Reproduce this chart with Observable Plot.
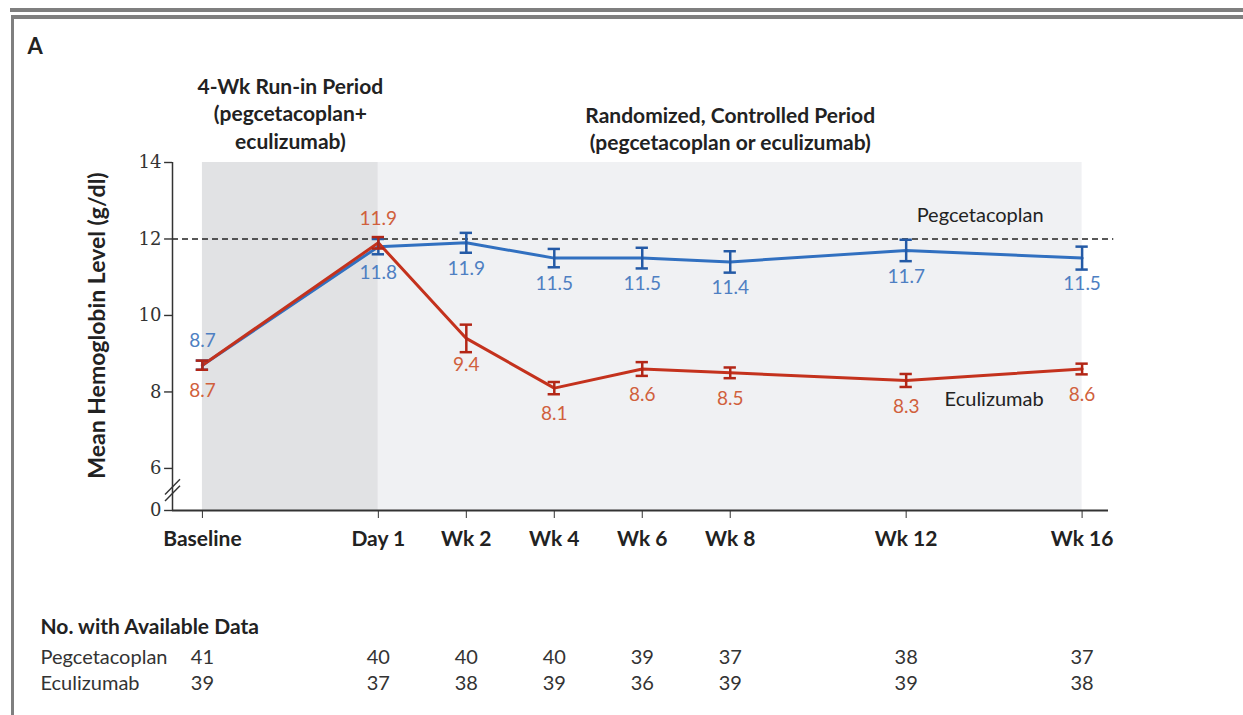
<!DOCTYPE html>
<html><head><meta charset="utf-8">
<script src="https://cdn.jsdelivr.net/npm/d3@7"></script>
<script src="https://cdn.jsdelivr.net/npm/@observablehq/plot@0.6"></script>
<style>
body{margin:0;background:#fff;overflow:hidden;}
#wrap{position:relative;width:1243px;height:715px;}
#wrap svg{position:absolute;left:0;top:0;}
.bl{position:absolute;background:#7f7f7f;z-index:5;}
</style></head><body>
<div id="wrap">
  <div class="bl" style="top:8px;left:10px;right:0;height:4px;"></div>
  <div class="bl" style="top:15px;left:11px;right:0;height:4px;"></div>
  <div class="bl" style="top:15px;left:11px;width:3px;bottom:0;"></div>
</div>
<script>
// ---- data ----
const timepoints = ["Baseline", "Day 1", "Wk 2", "Wk 4", "Wk 6", "Wk 8", "Wk 12", "Wk 16"];
const weeks      = [-4, 0, 2, 4, 6, 8, 12, 16];
const pegMean    = [8.7, 11.8, 11.9, 11.5, 11.5, 11.4, 11.7, 11.5];
const pegErr     = [0.12, 0.2, 0.26, 0.24, 0.27, 0.28, 0.28, 0.3];
const eculMean   = [8.7, 11.9, 9.4, 8.1, 8.6, 8.5, 8.3, 8.6];
const eculErr    = [0.12, 0.15, 0.36, 0.16, 0.18, 0.14, 0.17, 0.14];
const pegN       = [41, 40, 40, 40, 39, 37, 38, 37];
const eculN      = [39, 37, 38, 39, 36, 39, 39, 38];
const yTicks     = [6, 8, 10, 12, 14];
const yBreakBottom = 4.9;   // shown as "0" below the axis break
const targetHb   = 12;
const periodNames  = ["4-Wk Run-in Period\n(pegcetacoplan+\neculizumab)", "Randomized, Controlled Period\n(pegcetacoplan or eculizumab)"];
const periodStart  = [-4, 0];
const periodEnd    = [0, 16];
const seriesNames  = ["Pegcetacoplan", "Eculizumab"];
const panelLabel   = "A";
const yTitle       = "Mean Hemoglobin Level (g/dl)";
const tableTitle   = "No. with Available Data";

// ---- derived tables ----
const rows = weeks.map((w, i) => ({
  week: w, label: timepoints[i],
  peg: pegMean[i], pegErr: pegErr[i],
  ecul: eculMean[i], eculErr: eculErr[i],
  pegN: pegN[i], eculN: eculN[i], i
}));
const periods = periodNames.map((n, i) => ({name: n, start: periodStart[i], end: periodEnd[i]}));
const yTickVals = [yBreakBottom, ...yTicks];

// ---- styles ----
const X0 = -4.68, X1 = 16.6, Y0 = yBreakBottom, Y1 = 14;
const BLUE = "#3170c0", BLUE_D = "#245aa6", BLUE_T = "#4e7fc2";
const RED = "#c4321d", RED_D = "#b32616", RED_T = "#d0603c";
const INK = "#222";
const FONT = "Lato, 'Open Sans', sans-serif";
const SERIF = "'DejaVu Serif', 'Liberation Serif', serif";
const capW = 0.14;
const tickLen = 0.18; // in weeks (~8px)

const chart = Plot.plot({
  width: 1243, height: 715,
  marginTop: 162, marginBottom: 205, marginLeft: 172, marginRight: 1243 - 1108,
  x: {domain: [X0, X1], axis: null},
  y: {domain: [Y0, Y1], axis: null},
  style: {fontFamily: FONT, background: "transparent", color: INK},
  marks: [
    Plot.rect([periods[0]], {x1: "start", x2: "end", y1: Y0, y2: Y1, fill: "#e1e2e4"}),
    Plot.rect([periods[1]], {x1: "start", x2: "end", y1: Y0, y2: Y1, fill: "#f0f1f3"}),
    Plot.ruleY([targetHb], {x1: X0, x2: 16.72, stroke: "#222", strokeWidth: 1.7, strokeDasharray: "6,4"}),
    // axes
    Plot.ruleX([X0], {y1: Y0, y2: Y1, stroke: "#333", strokeWidth: 1.5}),
    Plot.ruleY([Y0], {x1: X0, x2: X1, stroke: "#333", strokeWidth: 1.8}),
    Plot.link([0, 1], {x1: X0 - 0.17, x2: X0 + 0.17, y1: d => 5.15 + d * 0.17, y2: d => 5.55 + d * 0.17, stroke: "#333", strokeWidth: 1.4}),
    Plot.ruleY(yTickVals, {y: d => d, x1: X0 - tickLen, x2: X0, stroke: "#333", strokeWidth: 1.4}),
    Plot.text(yTickVals, {y: d => d, x: X0, dx: -11, textAnchor: "end", text: d => d === Y0 ? "0" : String(d),
      fontSize: 18, fontFamily: SERIF, fill: "#333"}),
    Plot.axisX({ticks: weeks, tickFormat: d => timepoints[weeks.indexOf(d)], tickSize: 8, tickPadding: 13,
      fontSize: 21, fontWeight: "bold", label: null, stroke: "#333", fill: INK}),
    Plot.text([yTitle], {frameAnchor: "left", rotate: -90, textAnchor: "middle", lineAnchor: "middle", dx: -75, dy: -11, fontSize: 23, fontWeight: "bold", fill: INK}),
    // lines
    Plot.line(rows, {x: "week", y: "peg", stroke: BLUE, strokeWidth: 3}),
    Plot.line(rows, {x: "week", y: "ecul", stroke: RED, strokeWidth: 3}),
    // error bars
    Plot.ruleX(rows, {x: "week", y1: d => d.peg - d.pegErr, y2: d => d.peg + d.pegErr, stroke: BLUE_D, strokeWidth: 2.5}),
    Plot.ruleY(rows, {y: d => d.peg + d.pegErr, x1: d => d.week - capW, x2: d => d.week + capW, stroke: BLUE_D, strokeWidth: 2.5}),
    Plot.ruleY(rows, {y: d => d.peg - d.pegErr, x1: d => d.week - capW, x2: d => d.week + capW, stroke: BLUE_D, strokeWidth: 2.5}),
    Plot.ruleX(rows, {x: "week", y1: d => d.ecul - d.eculErr, y2: d => d.ecul + d.eculErr, stroke: RED_D, strokeWidth: 2.5}),
    Plot.ruleY(rows, {y: d => d.ecul + d.eculErr, x1: d => d.week - capW, x2: d => d.week + capW, stroke: RED_D, strokeWidth: 2.5}),
    Plot.ruleY(rows, {y: d => d.ecul - d.eculErr, x1: d => d.week - capW, x2: d => d.week + capW, stroke: RED_D, strokeWidth: 2.5}),
    // value labels
    Plot.text(rows, {filter: d => d.i === 0, x: "week", y: "peg", text: d => d.peg.toFixed(1), dy: -24, fill: BLUE_T, fontSize: 19}),
    Plot.text(rows, {filter: d => d.i !== 0, x: "week", y: "peg", text: d => d.peg.toFixed(1), dy: 26, fill: BLUE_T, fontSize: 19}),
    Plot.text(rows, {filter: d => d.i === 1, x: "week", y: "ecul", text: d => d.ecul.toFixed(1), dy: -24, fill: RED_T, fontSize: 19}),
    Plot.text(rows, {filter: d => d.i !== 1, x: "week", y: "ecul", text: d => d.ecul.toFixed(1), dy: 26, fill: RED_T, fontSize: 19}),
    // series labels
    Plot.text([seriesNames[0]], {x: 14, y: targetHb, dx: -14, dy: -23, fontSize: 20, fill: INK}),
    Plot.text([seriesNames[1]], {x: 14, y: 8, dx: 0, dy: 8, fontSize: 20, fill: INK}),
    // period titles
    Plot.text([periods[0]], {x: d => (d.start + d.end) / 2, y: Y1, text: "name", dy: -50, lineAnchor: "middle", lineHeight: 1.3, fontSize: 21, fontWeight: "bold", fill: INK}),
    Plot.text([periods[1]], {x: d => (d.start + d.end) / 2, y: Y1, text: "name", dy: -35, lineAnchor: "middle", lineHeight: 1.3, fontSize: 21, fontWeight: "bold", fill: INK}),
    // panel label
    Plot.text([panelLabel], {frameAnchor: "top-left", dx: -145, dy: -116, textAnchor: "start", lineAnchor: "middle", fontSize: 22, fontWeight: "bold", fill: INK}),
    // table
    Plot.text([tableTitle], {frameAnchor: "bottom-left", dx: -132, dy: 117, textAnchor: "start", lineAnchor: "middle", fontSize: 21, fontWeight: "bold", fill: INK}),
    Plot.text([seriesNames[0]], {frameAnchor: "bottom-left", dx: -132, dy: 147, textAnchor: "start", lineAnchor: "middle", fontSize: 20, fill: "#333"}),
    Plot.text([seriesNames[1]], {frameAnchor: "bottom-left", dx: -132, dy: 173, textAnchor: "start", lineAnchor: "middle", fontSize: 20, fill: "#333"}),
    Plot.text(rows, {x: "week", frameAnchor: "bottom", dy: 147, lineAnchor: "middle", text: d => String(d.pegN), fontSize: 20, fill: "#333"}),
    Plot.text(rows, {x: "week", frameAnchor: "bottom", dy: 173, lineAnchor: "middle", text: d => String(d.eculN), fontSize: 20, fill: "#333"})
  ]
});
document.getElementById("wrap").prepend(chart);
</script>
</body></html>
